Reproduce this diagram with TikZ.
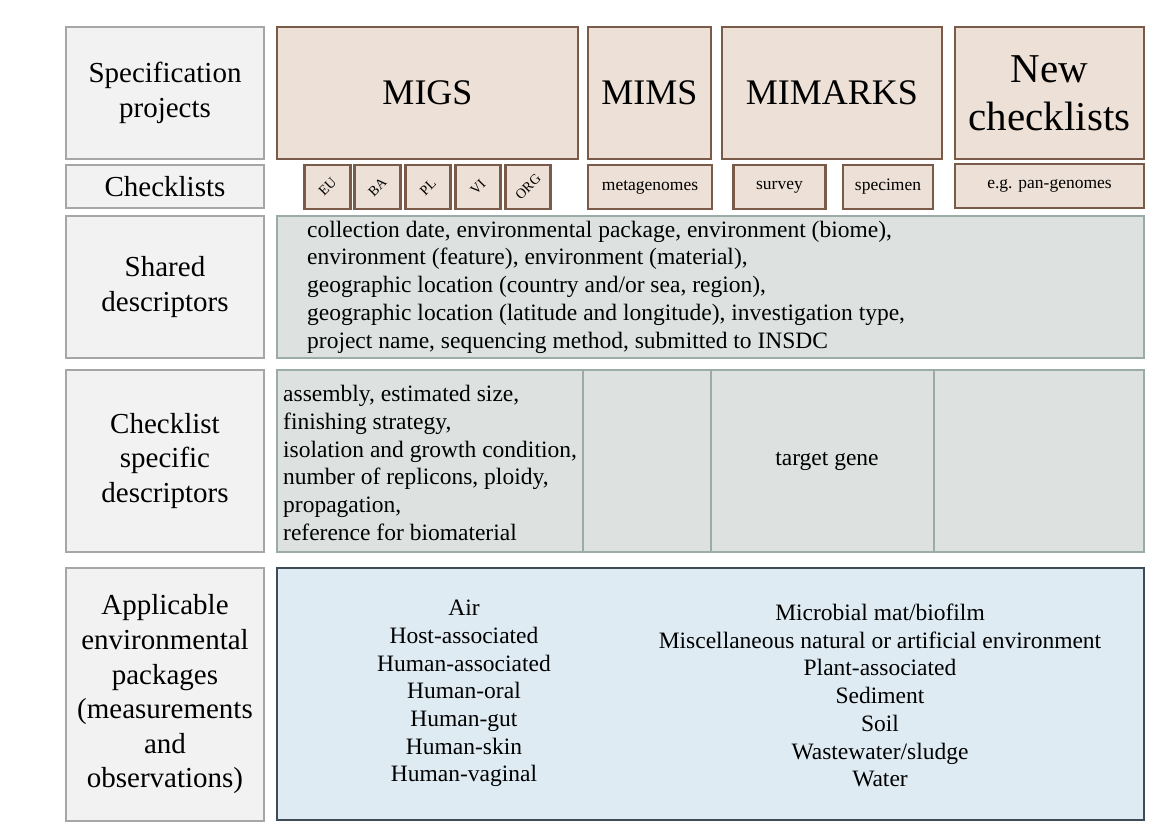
\documentclass[tikz,border=0pt]{standalone}
\usepackage{fontspec}
\setmainfont{Liberation Serif}

\definecolor{labelfill}{HTML}{F2F2F2}
\definecolor{labelline}{HTML}{A6A6A6}
\definecolor{projfill}{HTML}{EDE0D6}
\definecolor{projline}{HTML}{7A5A48}
\definecolor{descfill}{HTML}{DDE2E1}
\definecolor{descline}{HTML}{9BABA7}
\definecolor{envfill}{HTML}{DEEBF3}
\definecolor{envline}{HTML}{3E4C57}

\newcommand{\fsz}[2]{\fontsize{#1}{#2}\selectfont}

\begin{document}
\begin{tikzpicture}[x=1pt,y=-1pt,
	boxsize/.style 2 args={minimum width=#1pt,minimum height=#2pt},
	label box/.style={draw=labelline,fill=labelfill,line width=2.8pt,inner sep=0pt,align=center,font=\fsz{29}{34.6}},
	project box/.style={draw=projline,fill=projfill,line width=2.8pt,inner sep=0pt,align=center,font=\fsz{36}{48}},
	list box/.style={draw=projline,fill=projfill,line width=2.8pt,inner sep=0pt,font=\fsz{17.5}{20}},
	desc box/.style={draw=descline,fill=descfill,line width=2.8pt,inner sep=0pt,font=\fsz{23.5}{27.7}},
	env box/.style={draw=envline,fill=envfill,line width=2.8pt,inner sep=0pt},
	body text/.style={inner sep=0pt,font=\fsz{23.5}{27.7}}]
	
	\useasboundingbox (0,0) rectangle (1169,827);
	
	% row labels
	\node[label box, boxsize={198}{132}] (spec) at (165,93) {Specification\\projects};
	\node[label box, boxsize={198}{43}] (lists) at (165,186.5) {Checklists};
	\node[label box, boxsize={198}{142}] (shared) at (165,287) {Shared\\descriptors};
	\node[label box, boxsize={198}{182}] (specific) at (165,461) {Checklist\\specific\\descriptors};
	\node[label box, boxsize={198}{253}] (envpack) at (165,694.5) {Applicable\\environmental\\packages\\(measurements\\and\\observations)};
	
	% specification projects
	\node[project box, boxsize={301}{132}] (migs) at (427.5,93) {MIGS};
	\node[project box, boxsize={123}{132}] (mims) at (649.5,93) {MIMS};
	\node[project box, boxsize={220}{132}] (mimarks) at (832,93) {MIMARKS};
	\node[project box, boxsize={189}{132}, font=\fsz{41}{48}] (new) at (1049.5,93) {New\\checklists};
	
	% checklists
	\foreach \name/\xpos in {EU/327.5,BA/377.5,PL/428,VI/478,ORG/528}
		\node[list box, boxsize={45.5}{44}, font=\fsz{14}{16}] (\name) at (\xpos,187) {\rotatebox{45}{\name}};
	\node[list box, boxsize={124}{44}] (metagenomes) at (650,187) {metagenomes};
	\node[list box, boxsize={92}{44}] (survey) at (779.5,187) {survey};
	\node[list box, boxsize={90}{44}] (specimen) at (888,187) {specimen};
	\node[list box, boxsize={189}{44}] (pangenomes) at (1049.5,186) {e.g. pan-genomes};
	
	% shared descriptors
	\node[desc box, boxsize={867}{142}] (sharedbox) at (710.5,287) {};
	\node[body text, anchor=west, align=left] (sharedtext) at (307,287) {collection date, environmental package, environment (biome),\\environment (feature), environment (material),\\geographic location (country and/or sea, region),\\geographic location (latitude and longitude), investigation type,\\project name, sequencing method, submitted to INSDC};
	
	% checklist specific descriptors
	\node[desc box, boxsize={306}{182}] (migsdesc) at (430,461) {};
	\node[desc box, boxsize={128}{182}] (mimsdesc) at (647,461) {};
	\node[desc box, boxsize={223}{182}] (mimarksdesc) at (822.5,461) {};
	\node[desc box, boxsize={210}{182}] (newdesc) at (1039,461) {};
	\node[body text, anchor=west, align=left] (migstext) at (283,463) {assembly, estimated size,\\finishing strategy,\\isolation and growth condition,\\number of replicons, ploidy,\\propagation,\\reference for biomaterial};
	\node[body text] (mimarkstext) at (827,461) {target gene};
	
	% environmental packages
	\node[env box, boxsize={867}{252}] (envbox) at (710.5,694) {};
	\node[body text, align=center] (envleft) at (464,693.5) {Air\\Host-associated\\Human-associated\\Human-oral\\Human-gut\\Human-skin\\Human-vaginal};
	\node[body text, align=center] (envright) at (880,695.5) {Microbial mat/biofilm\\Miscellaneous natural or artificial environment\\Plant-associated\\Sediment\\Soil\\Wastewater/sludge\\Water};
	
\end{tikzpicture}
\end{document}
